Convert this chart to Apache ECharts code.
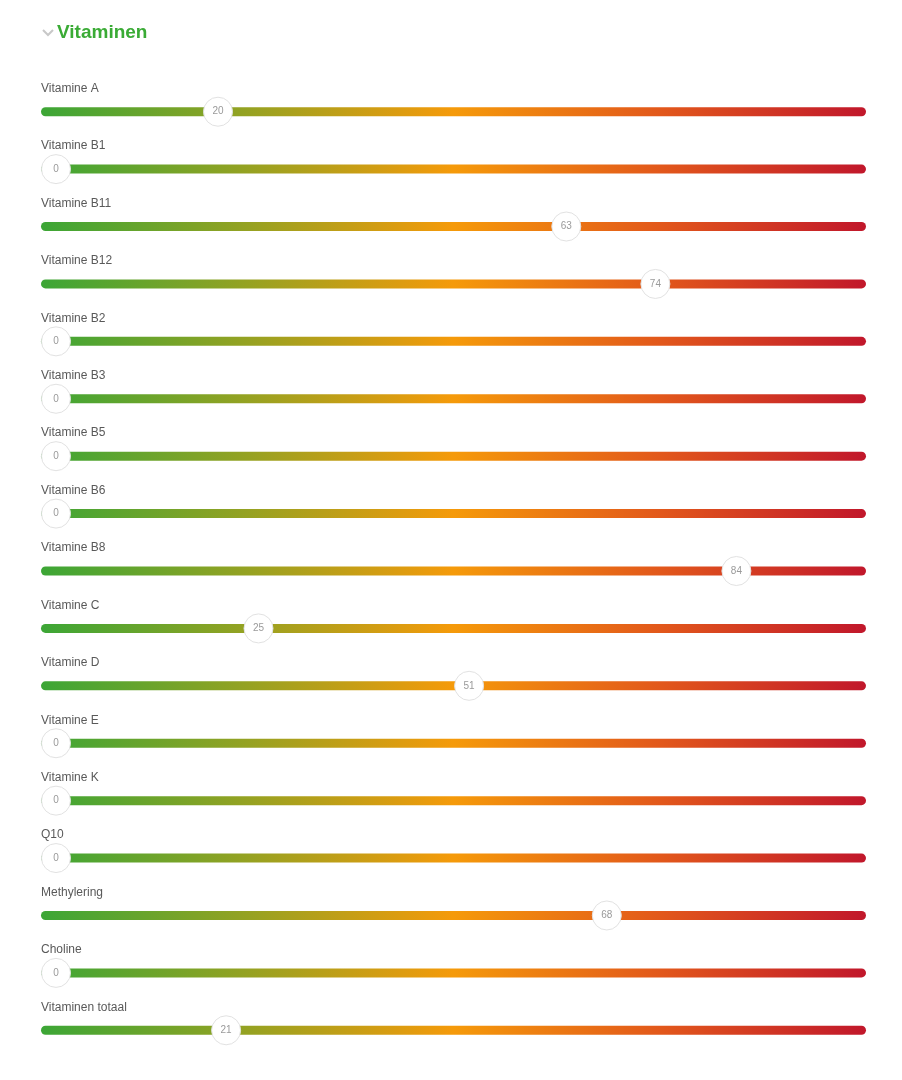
<!DOCTYPE html>
<html>
<head>
<meta charset="utf-8">
<style>
html,body{margin:0;padding:0;background:#fff;}
#chart{width:902px;height:1080px;}
</style>
<script src="https://cdn.jsdelivr.net/npm/echarts@6/dist/echarts.min.js"></script>
</head>
<body>
<div id="chart"></div>
<script>
const title = 'Vitaminen';
const categories = ['Vitamine A','Vitamine B1','Vitamine B11','Vitamine B12','Vitamine B2','Vitamine B3','Vitamine B5','Vitamine B6','Vitamine B8','Vitamine C','Vitamine D','Vitamine E','Vitamine K','Q10','Methylering','Choline','Vitaminen totaal'];
const values = [20,0,63,74,0,0,0,0,84,25,51,0,0,0,68,0,21];
const scaleMin = 0;
const scaleMax = 100;

const chart = echarts.init(document.getElementById('chart'), null, {renderer:'canvas'});
const THUMB_R = 14.5;
const BAR_H = 9;

function renderItem(params, api){
  const v = api.value(0);
  const row = api.value(1);
  const p0 = api.coord([scaleMin, row]);
  const p1 = api.coord([scaleMax, row]);
  const pv = api.coord([v, row]);
  const y = p0[1];
  const x0 = p0[0] - THUMB_R - 0.5;
  const x1 = p1[0];
  return {
    type:'group',
    children:[
      {type:'text', style:{x:x0, y:y-23, text:categories[row], fill:'#595959', font:'12px "Liberation Sans", Arial, sans-serif', verticalAlign:'middle', align:'left'}},
      {type:'rect', shape:{x:x0, y:y-BAR_H/2, width:x1-x0, height:BAR_H, r:BAR_H/2},
        style:{fill:new echarts.graphic.LinearGradient(0,0,1,0,[
          {offset:0,color:'#3ca636'},
          {offset:0.25,color:'#95a222'},
          {offset:0.5,color:'#f59a0a'},
          {offset:0.75,color:'#e2581b'},
          {offset:1,color:'#c1172b'}
        ])}},
      {type:'circle', shape:{cx:pv[0], cy:y, r:THUMB_R}, style:{fill:'#fff', stroke:'#e2e2e2', lineWidth:1}},
      {type:'text', style:{x:pv[0], y:y, text:String(v), fill:'#9a9a9a', font:'10px "Liberation Sans", Arial, sans-serif', align:'center', verticalAlign:'middle'}}
    ]
  };
}

chart.setOption({
  animation:false,
  backgroundColor:'#fff',
  graphic:[
    {type:'polyline', shape:{points:[[43,30],[48,35],[53,30]]}, style:{stroke:'#c8c8c8', lineWidth:2, fill:null}},
    {type:'text', left:57, top:23, style:{text:title, fill:'#3aab35', font:'bold 19px "Liberation Sans", Arial, sans-serif'}}
  ],
  grid:{left:56, right:36, top:83, bottom:21},
  xAxis:{type:'value', min:scaleMin, max:scaleMax, show:false},
  yAxis:{type:'category', data:categories, inverse:true, show:false},
  series:[{
    type:'custom',
    renderItem:renderItem,
    data:values.map((v,i)=>[v,i]),
    encode:{x:0,y:1}
  }]
});
</script>
</body>
</html>
